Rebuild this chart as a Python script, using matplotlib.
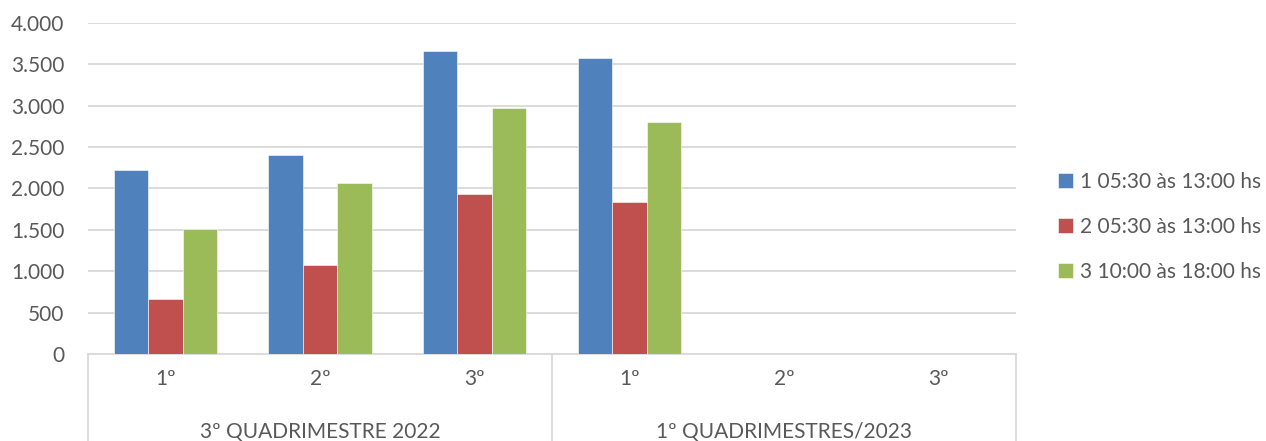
import matplotlib
matplotlib.use("Agg")
import matplotlib.pyplot as plt
import matplotlib.transforms as mtransforms
import numpy as np

categories = ["1º", "2º", "3º", "1º", "2º", "3º"]
groups = ["3º QUADRIMESTRE 2022", "1º QUADRIMESTRES/2023"]
series_names = ["1 05:30 às 13:00 hs", "2 05:30 às 13:00 hs", "3 10:00 às 18:00 hs"]
serie1 = [2220, 2400, 3665, 3570, np.nan, np.nan]
serie2 = [660, 1070, 1930, 1835, np.nan, np.nan]
serie3 = [1515, 2070, 2970, 2805, np.nan, np.nan]
colors = ["#4F81BD", "#C0504D", "#9BBB59"]
yticks = [0, 500, 1000, 1500, 2000, 2500, 3000, 3500, 4000]

plt.rcParams['font.family'] = ['Lato', 'DejaVu Sans']
text_color = "#595959"
grid_color = "#D9D9D9"
fs = 15

fig = plt.figure(figsize=(12.66, 4.41), dpi=100)
ax = fig.add_axes([88/1266, 1-354/441, (1016-88)/1266, (354-22.9)/441])

x = np.arange(len(categories))
w = 0.222
for k, (vals, c, name) in enumerate(zip([serie1, serie2, serie3], colors, series_names)):
    ax.bar(x + (k-1)*w, vals, width=w, color=c, label=name, zorder=3,
           edgecolor="white", linewidth=0.4)

ax.set_xlim(-0.5, len(categories)-0.5)
ax.set_ylim(0, 4000)
ax.set_yticks(yticks)
ax.set_yticklabels([f"{v:,}".replace(",", ".") for v in yticks], fontsize=fs, color=text_color)
ax.tick_params(axis='y', length=0, pad=17)
ax.grid(axis='y', color=grid_color, linewidth=1.3, zorder=0)
for s in ax.spines.values():
    s.set_visible(False)

ax.set_xticks(x)
ax.set_xticklabels([])
ax.tick_params(axis='x', length=0)
trans = mtransforms.blended_transform_factory(ax.transData, ax.transAxes)
px = 1/(354-22.9)
for xi, lab in zip(x, categories):
    ax.text(xi, -25*px, lab, transform=trans, ha='center', va='center',
            fontsize=fs, color=text_color)
for gi, g in enumerate(groups):
    ax.text(gi*3 + 1, -78*px, g, transform=trans, ha='center', va='center',
            fontsize=fs, color=text_color)
for xs in [-0.5, 2.5, 5.5]:
    ax.plot([xs, xs], [0, -0.4], transform=trans, color=grid_color, linewidth=1.3,
            clip_on=False, zorder=1)
ax.plot([-0.5, 5.5], [0, 0], transform=trans, color=grid_color, linewidth=1.3,
        clip_on=False, zorder=1)

handles, labels = ax.get_legend_handles_labels()
leg = fig.legend(handles, labels, loc='center left', bbox_to_anchor=(1058/1266, 1-227/441),
                 frameon=False, fontsize=fs, handlelength=0.7, handleheight=0.7,
                 handletextpad=0.35, labelspacing=1.2, borderpad=0, borderaxespad=0)
for t in leg.get_texts():
    t.set_color(text_color)

fig.savefig("out.png", dpi=100)
